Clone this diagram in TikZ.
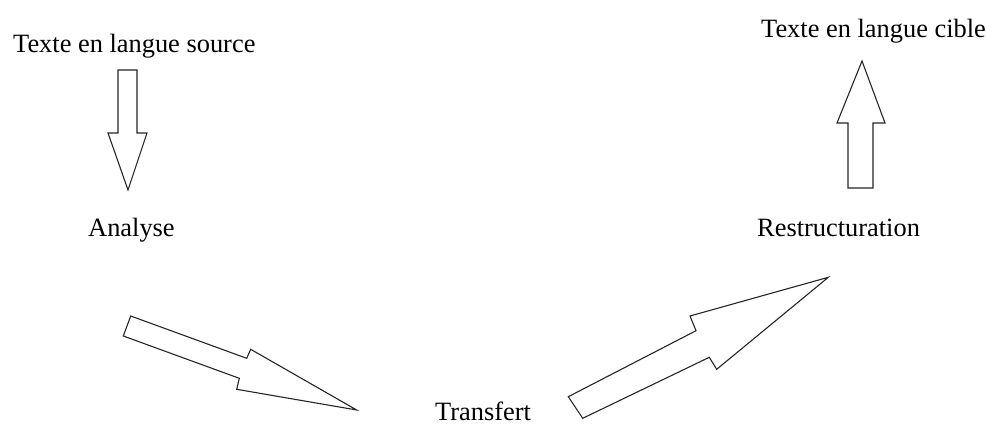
\documentclass[tikz,border=0pt]{standalone}
\usepackage{fontspec}
\setmainfont{Liberation Serif}
\begin{document}
\begin{tikzpicture}[x=1pt,y=-1pt,
  lbl/.style={anchor=base west,inner sep=0pt,font=\fontsize{26.4}{30}\selectfont},
  blockarrow/.style={draw=black!85,line width=1.1pt,line join=miter,fill=white}]
\useasboundingbox (0,0) rectangle (986,425);
\node[lbl] (src) at (13,53) {Texte en langue source};
\node[lbl] (tgt) at (761,38) {Texte en langue cible};
\node[lbl] (ana) at (88,236.7) {Analyse};
\node[lbl] (res) at (757,236.7) {Restructuration};
\node[lbl] (tra) at (435,420) {Transfert};
\draw[blockarrow] (118,70) -- (137,70) -- (137,133) -- (147,133) -- (128,190) -- (108,133) -- (118,133) -- cycle;
\draw[blockarrow] (848,188) -- (873,188) -- (873,123) -- (885,123) -- (862,61) -- (837,123) -- (848,123) -- cycle;
\draw[blockarrow] (130.7,316) -- (246.7,358.3) -- (250.7,349.3) -- (356.7,410) -- (236.7,389.3) -- (239.3,378.3) -- (123.3,336) -- cycle;
\draw[blockarrow] (568.3,396.7) -- (696,330.7) -- (690,316) -- (828.3,277.3) -- (716.7,369.3) -- (709.3,357.3) -- (582.7,418.3) -- cycle;
\end{tikzpicture}
\end{document}
